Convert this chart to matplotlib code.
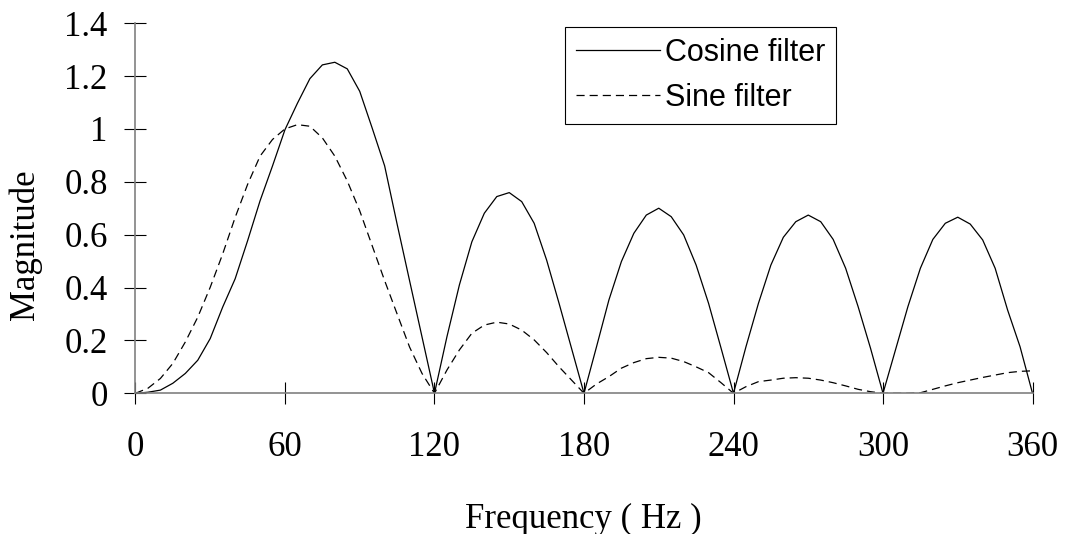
import matplotlib
matplotlib.use('Agg')
import matplotlib.pyplot as plt

# frequency axis (Hz), sampled every 5 Hz
freq = list(range(0, 365, 5))

# cosine filter magnitude
cosine = [0.0, 0.004, 0.012, 0.038, 0.075, 0.125, 0.207, 0.326, 0.433, 0.577, 0.728, 0.86,
          0.997, 1.097, 1.19, 1.242, 1.252, 1.227, 1.142, 1.003, 0.86, 0.64, 0.426, 0.213,
          0.0, 0.214, 0.41, 0.573, 0.681, 0.744, 0.759, 0.725, 0.643, 0.504, 0.34, 0.17,
          0.0, 0.175, 0.353, 0.498, 0.605, 0.674, 0.70, 0.668, 0.599, 0.485, 0.34, 0.171,
          0.0, 0.176, 0.34, 0.485, 0.59, 0.649, 0.674, 0.649, 0.582, 0.473, 0.328, 0.17,
          0.0, 0.164, 0.328, 0.473, 0.582, 0.643, 0.666, 0.64, 0.58, 0.473, 0.315, 0.176,
          0.0]

# sine filter magnitude
sine = [0.0, 0.019, 0.056, 0.113, 0.194, 0.288, 0.401, 0.527, 0.665, 0.79, 0.897, 0.96,
        1.0, 1.016, 1.01, 0.966, 0.897, 0.803, 0.69, 0.558, 0.426, 0.30, 0.175, 0.075,
        0.0, 0.088, 0.164, 0.227, 0.258, 0.269, 0.262, 0.239, 0.202, 0.154, 0.10, 0.05,
        0.0, 0.035, 0.063, 0.095, 0.116, 0.131, 0.136, 0.133, 0.12, 0.10, 0.078, 0.04,
        0.0, 0.025, 0.044, 0.05, 0.057, 0.059, 0.057, 0.05, 0.04, 0.028, 0.015, 0.006,
        0.0, 0.0, 0.0, 0.002, 0.015, 0.028, 0.04, 0.05, 0.06, 0.069, 0.078, 0.083,
        0.085]

xticks = [0, 60, 120, 180, 240, 300, 360]
yticks = [0, 0.2, 0.4, 0.6, 0.8, 1.0, 1.2, 1.4]
ytick_labels = ['0', '0.2', '0.4', '0.6', '0.8', '1', '1.2', '1.4']

serif = 'Liberation Serif'
sans = 'Liberation Sans'

fig = plt.figure(figsize=(10.65, 5.34), dpi=100)
ax = fig.add_axes([0.1272, 0.2635, 0.8423, 0.6932])

ax.plot(freq, cosine, color='black', lw=0.9, label='Cosine filter')
ax.plot(freq, sine, color='black', lw=0.9, dashes=(6.5, 4), label='Sine filter')

ax.set_xlim(0, 360)
ax.set_ylim(0, 1.4)
ax.set_xticks(xticks)
ax.set_xticklabels([str(t) for t in xticks], family=serif, fontsize=25)
ax.set_yticks(yticks)
ax.set_yticklabels(ytick_labels, family=serif, fontsize=25)

for s in ['top', 'right']:
    ax.spines[s].set_visible(False)
for s in ['left', 'bottom']:
    ax.spines[s].set_color('#808080')
    ax.spines[s].set_linewidth(1.2)

ax.tick_params(axis='x', direction='inout', length=16.5, width=0.8, color='black', pad=19)
ax.tick_params(axis='y', direction='inout', length=16, width=0.8, color='black', pad=12)

fig.text(583 / 1065, 1 - 519 / 534, 'Frequency ( Hz )', family=serif, fontsize=25,
         ha='center', va='center')
fig.text(25 / 1065, 1 - 245 / 534, 'Magnitude', family=serif, fontsize=25,
         rotation=90, ha='center', va='center')

leg = ax.legend(loc='upper left', bbox_to_anchor=(565 / 1065, 1 - 27 / 534),
                bbox_transform=fig.transFigure, borderaxespad=0,
                prop={'family': sans, 'size': 22}, frameon=True, fancybox=False,
                framealpha=1, edgecolor='black', handlelength=2.75,
                handletextpad=0.15, borderpad=0.36, labelspacing=0.49)
leg.get_frame().set_linewidth(0.8)

fig.savefig('out.png', dpi=100)
